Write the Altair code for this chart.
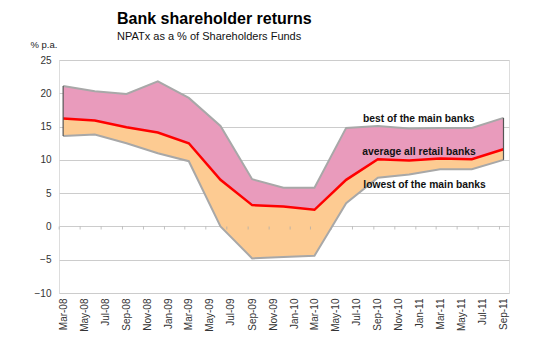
import altair as alt
import pandas as pd

# ---- data ----
dates = [
    "2008-03-01T00:00:00", "2008-06-01T00:00:00", "2008-09-01T00:00:00", "2008-12-01T00:00:00",
    "2009-03-01T00:00:00", "2009-06-01T00:00:00", "2009-09-01T00:00:00", "2009-12-01T00:00:00",
    "2010-03-01T00:00:00", "2010-06-01T00:00:00", "2010-09-01T00:00:00", "2010-12-01T00:00:00",
    "2011-03-01T00:00:00", "2011-06-01T00:00:00", "2011-09-01T00:00:00",
]
best = [21.1, 20.3, 19.9, 21.8, 19.3, 15.1, 7.1, 5.8, 5.8, 14.8, 15.1, 14.7, 14.8, 14.8, 16.3]
average = [16.2, 15.9, 14.9, 14.1, 12.5, 7.0, 3.2, 3.0, 2.5, 7.0, 10.1, 9.9, 10.2, 10.1, 11.6]
lowest = [13.6, 13.8, 12.5, 11.0, 9.8, 0.0, -4.8, -4.6, -4.4, 3.5, 7.3, 7.8, 8.6, 8.6, 10.0]

x_tick_dates = [
    "2008-03-01T00:00:00", "2008-05-01T00:00:00", "2008-07-01T00:00:00", "2008-09-01T00:00:00",
    "2008-11-01T00:00:00", "2009-01-01T00:00:00", "2009-03-01T00:00:00", "2009-05-01T00:00:00",
    "2009-07-01T00:00:00", "2009-09-01T00:00:00", "2009-11-01T00:00:00", "2010-01-01T00:00:00",
    "2010-03-01T00:00:00", "2010-05-01T00:00:00", "2010-07-01T00:00:00", "2010-09-01T00:00:00",
    "2010-11-01T00:00:00", "2011-01-01T00:00:00", "2011-03-01T00:00:00", "2011-05-01T00:00:00",
    "2011-07-01T00:00:00", "2011-09-01T00:00:00",
]
y_ticks = [-10, -5, 0, 5, 10, 15, 20, 25]

ann_labels = ["best of the main banks", "average all retail banks", "lowest of the main banks"]
ann_dates = ["2010-07-20T00:00:00", "2010-07-18T00:00:00", "2010-07-21T00:00:00"]
ann_values = [16.1, 11.2, 6.2]

df = pd.DataFrame({"date": dates, "best": best, "average": average, "lowest": lowest})
ends = df.iloc[[0, len(df) - 1]]
ticks_df = pd.DataFrame({"date": x_tick_dates})
ann_df = pd.DataFrame({"label": ann_labels, "date": ann_dates, "value": ann_values})

FONT = "Liberation Sans"

x_scale = alt.Scale(domain=[alt.DateTime(year=2008, month=2, date=18),
                            alt.DateTime(year=2011, month=9, date=17)])
x_axis = alt.Axis(values=x_tick_dates, format="%b-%y", labelAngle=-90, ticks=False,
                  domain=False, grid=False, labelFontSize=10, labelColor="#333333",
                  labelPadding=5, title=None, labelFont=FONT, labelFlush=False,
                  labelOverlap=False, labelBound=False)
y_scale = alt.Scale(domain=[-10, 25], nice=False, zero=False)
y_axis = alt.Axis(values=y_ticks, grid=True, gridColor="#CCCCCC", gridWidth=1, ticks=False,
                  domain=False, labelFontSize=10, labelColor="#333333", labelPadding=8,
                  labelFont=FONT, title="% p.a.", titleAngle=0, titleX=-29, titleY=-13,
                  titleAlign="left", titleBaseline="alphabetic", titleFontWeight="normal",
                  titleFontSize=9.5, titleColor="#222222", titleFont=FONT)


def X():
    return alt.X("date:T", scale=x_scale, axis=x_axis)


def Y(field):
    return alt.Y(f"{field}:Q", scale=y_scale, axis=y_axis)


base = alt.Chart(df)

orange = base.mark_area(color="#FDCB92", opacity=1).encode(x=X(), y=Y("lowest"), y2="average:Q")
pink = base.mark_area(color="#E99BBC", opacity=1).encode(x=X(), y=Y("average"), y2="best:Q")
best_line = base.mark_line(color="#A8A8A8", strokeWidth=2).encode(x=X(), y=Y("best"))
low_line = base.mark_line(color="#A8A8A8", strokeWidth=2).encode(x=X(), y=Y("lowest"))
avg_line = base.mark_line(color="#FF0000", strokeWidth=2.5).encode(x=X(), y=Y("average"))
end_rules = alt.Chart(ends).mark_rule(color="#555555", strokeWidth=1.2).encode(
    x=X(), y=Y("lowest"), y2="best:Q")
zero_ticks = alt.Chart(ticks_df).mark_tick(orient="vertical", size=3, thickness=1,
                                           color="#AAAAAA", xOffset=-4, yOffset=1.5).encode(
    x=X(), y=alt.datum(0, scale=y_scale, axis=y_axis))
labels = alt.Chart(ann_df).mark_text(align="left", baseline="middle", fontWeight="bold",
                                     fontSize=10.3, font=FONT, color="#111111").encode(
    x=X(), y=Y("value"), text="label:N")

chart = alt.layer(orange, pink, best_line, low_line, avg_line, end_rules, zero_ticks, labels).properties(
    width=450, height=233,
    autosize=alt.AutoSizeParams(type="none"),
    padding={"left": 59, "top": 60, "right": 41, "bottom": 57},
    title=alt.TitleParams("Bank shareholder returns",
                          subtitle="NPATx as a % of Shareholders Funds",
                          anchor="start", dx=87, dy=15, font=FONT, fontSize=16,
                          fontWeight="bold", color="#000000", subtitleFont=FONT,
                          subtitleFontSize=11, subtitleColor="#111111", subtitlePadding=4,
                          offset=12),
).configure_view(stroke=None).configure(background="white", font=FONT)

chart.save("out.html", embed_options={"renderer": "svg", "actions": False})
